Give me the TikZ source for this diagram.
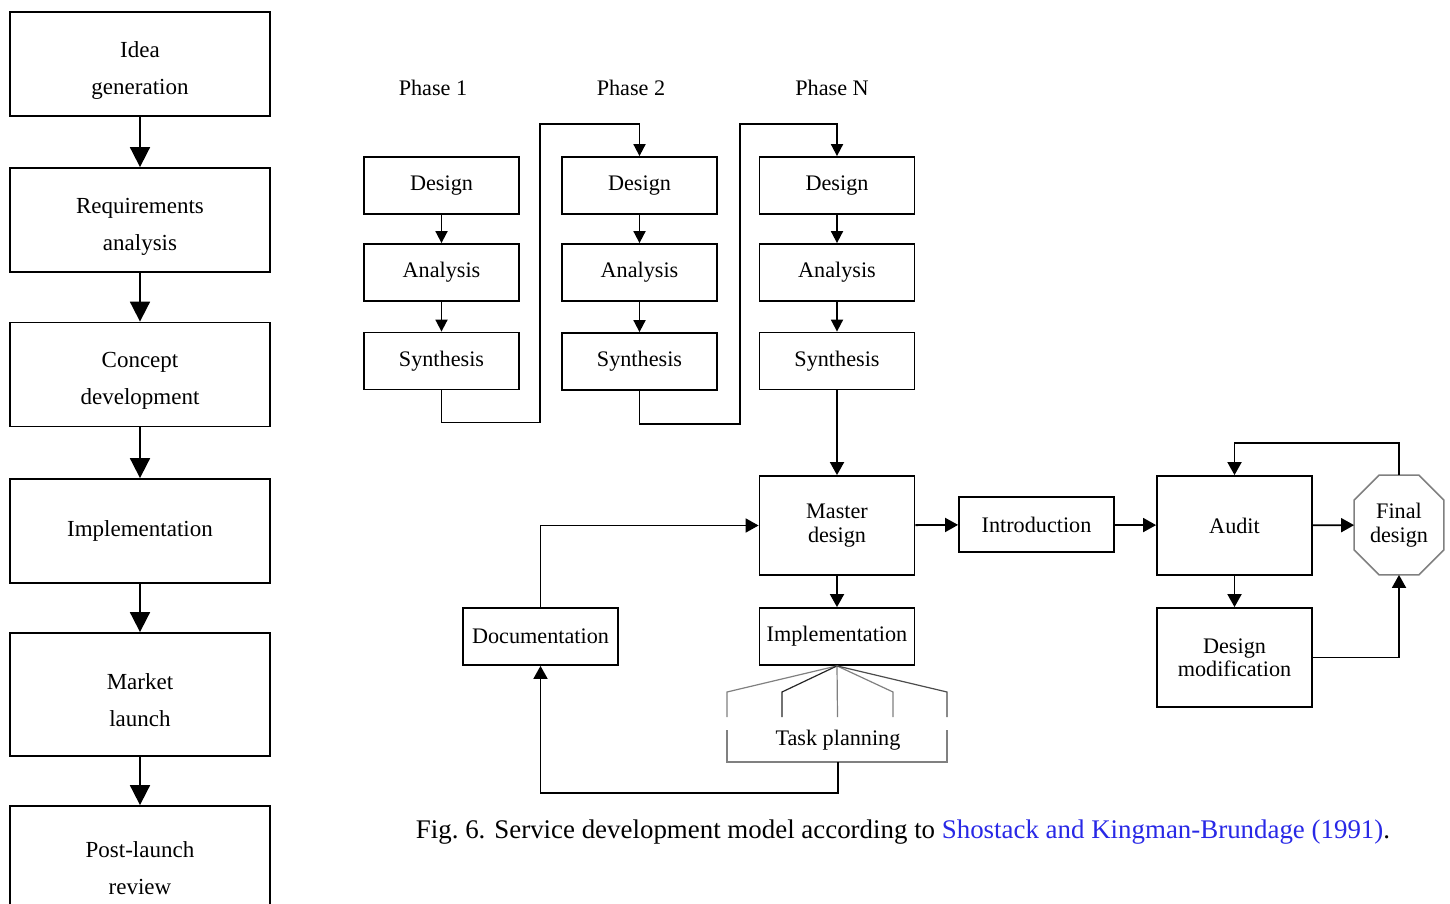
\documentclass[tikz,border=0pt]{standalone}
\usepackage{fontspec}
\setmainfont{Liberation Serif}
\usepackage{xcolor}
\usetikzlibrary{positioning,calc,arrows.meta}
\definecolor{citeblue}{RGB}{40,40,230}
\newcommand{\padtop}{\rule{0pt}{14pt}}

\begin{document}
\begin{tikzpicture}[x=0.5pt,y=-0.5pt,
  stage/.style={draw,line width=0.9pt,minimum width=130pt,minimum height=52pt,align=center,font=\fontsize{11.5}{18.5}\selectfont},
  block/.style={draw,line width=0.9pt,minimum width=77.5pt,minimum height=28.5pt,inner sep=1pt,align=center,font=\fontsize{11.1}{12}\selectfont},
  bigblock/.style={block,minimum height=49.5pt},
  label/.style={font=\fontsize{11.1}{12}\selectfont},
  bigarrow/.style={-{Triangle[length=10pt,width=10pt]},line width=0.9pt},
  smallarrow/.style={-{Triangle[length=6pt,width=6pt]},line width=0.9pt},
  midarrow/.style={-{Triangle[length=6.5pt,width=7pt]},line width=0.9pt},
  fan/.style={gray,line width=0.6pt}]
  \clip (0,0) rectangle (1450,904);

  % Stage-gate column
  \node[stage] (idea) at (140,64) {\padtop Idea\\generation};
  \node[stage] (req) at (140,220) {\padtop Requirements\\analysis};
  \node[stage] (concept) at (140,374.5) {\padtop Concept\\development};
  \node[stage] (impl) at (140,531) {Implementation};
  \node[stage,minimum height=61.5pt] (market) at (140,694.5) {\padtop Market\\launch};
  \node[stage,minimum height=56pt] (review) at (140,862) {\padtop Post-launch\\review};
  \draw[bigarrow] (idea) -- (req);
  \draw[bigarrow] (req) -- (concept);
  \draw[bigarrow] (concept) -- (impl);
  \draw[bigarrow] (impl) -- (market);
  \draw[bigarrow] (market) -- (review);

  % Phase 1
  \node[label] (ph1) at (433,88) {Phase 1};
  \node[block] (des1) at (441.5,185.5) {Design};
  \node[block] (ana1) at (441.5,272.5) {Analysis};
  \node[block] (syn1) at (441.5,361) {Synthesis};
  \draw[smallarrow] (des1) -- (ana1);
  \draw[smallarrow] (ana1) -- (syn1);
  % Phase 2
  \node[label] (ph2) at (631,88) {Phase 2};
  \node[block] (des2) at (639.5,185.5) {Design};
  \node[block] (ana2) at (639.5,272.5) {Analysis};
  \node[block] (syn2) at (639.5,361.5) {Synthesis};
  \draw[smallarrow] (des2) -- (ana2);
  \draw[smallarrow] (ana2) -- (syn2);
  % Phase N
  \node[label] (phN) at (832,88) {Phase N};
  \node[block] (desN) at (837,185.5) {Design};
  \node[block] (anaN) at (837,272.5) {Analysis};
  \node[block] (synN) at (837,361) {Synthesis};
  \draw[smallarrow] (desN) -- (anaN);
  \draw[smallarrow] (anaN) -- (synN);
  % links between phases
  \draw[smallarrow] (syn1.south) -- ++(0,32) -| (540,124) -| (des2.north);
  \draw[smallarrow] (syn2.south) -- ++(0,33) -| (740,124) -| (desN.north);

  % Master design and follow-up
  \node[bigblock] (master) at (837,525.5) {Master\\design};
  \node[block,minimum height=27.5pt] (intro) at (1036.5,524.5) {Introduction};
  \node[bigblock] (audit) at (1234.5,525.5) {Audit};
  \node[minimum width=44.5pt,minimum height=49.5pt,inner sep=0pt,align=center,font=\fontsize{11.1}{12}\selectfont] (final) at (1399,525) {Final\\design};
  \draw[gray,line width=0.8pt] ($(final.north west)+(25,0)$) -- ($(final.north east)+(-25,0)$)
    -- ($(final.north east)+(0,25)$) -- ($(final.south east)+(0,-25)$)
    -- ($(final.south east)+(-25,0)$) -- ($(final.south west)+(25,0)$)
    -- ($(final.south west)+(0,-25)$) -- ($(final.north west)+(0,25)$) -- cycle;
  \node[bigblock,font=\fontsize{11.1}{11.5}\selectfont] (dmod) at (1234.5,657.5) {Design\\modification};
  \node[block] (implr) at (837,636.5) {Implementation};
  \node[block] (doc) at (540.5,636.5) {Documentation};
  \draw[midarrow] (synN) -- (master);
  \draw[midarrow] (master) -- (intro);
  \draw[midarrow] (intro) -- (audit);
  \draw[midarrow] (audit) -- (final);
  \draw[midarrow] (audit) -- (dmod);
  \draw[midarrow] (dmod.east) -| (final.south);
  \draw[midarrow] (final.north) -- ++(0,-32) -| (audit.north);
  \draw[midarrow] (master) -- (implr);
  \draw[midarrow] (doc.north) |- (master.west);

  % Task planning bracket
  \draw[fan] (implr.south) -- (727,692) -- (727,717);
  \draw[fan,black!85] (implr.south) -- (782,692) -- (782,717);
  \draw[fan] (implr.south) -- (837.5,717);
  \draw[fan] (implr.south) -- (893,692) -- (893,717);
  \draw[fan,black!70] (implr.south) -- (947,692) -- (947,717);
  \node[label] (task) at (838,740) {Task planning};
  \coordinate (taskbase) at (838,762);
  \draw[fan] (727,730) -- (727,762) -- (947,762) -- (947,730);
  \draw[midarrow] (taskbase) -- ++(0,31) -| (doc.south);

  % Caption
  \node[font=\fontsize{13.45}{15}\selectfont] (caption) at (903,832)
    {Fig.~6. Service development model according to \textcolor{citeblue}{Shostack and Kingman-Brundage (1991)}.};
\end{tikzpicture}
\end{document}
